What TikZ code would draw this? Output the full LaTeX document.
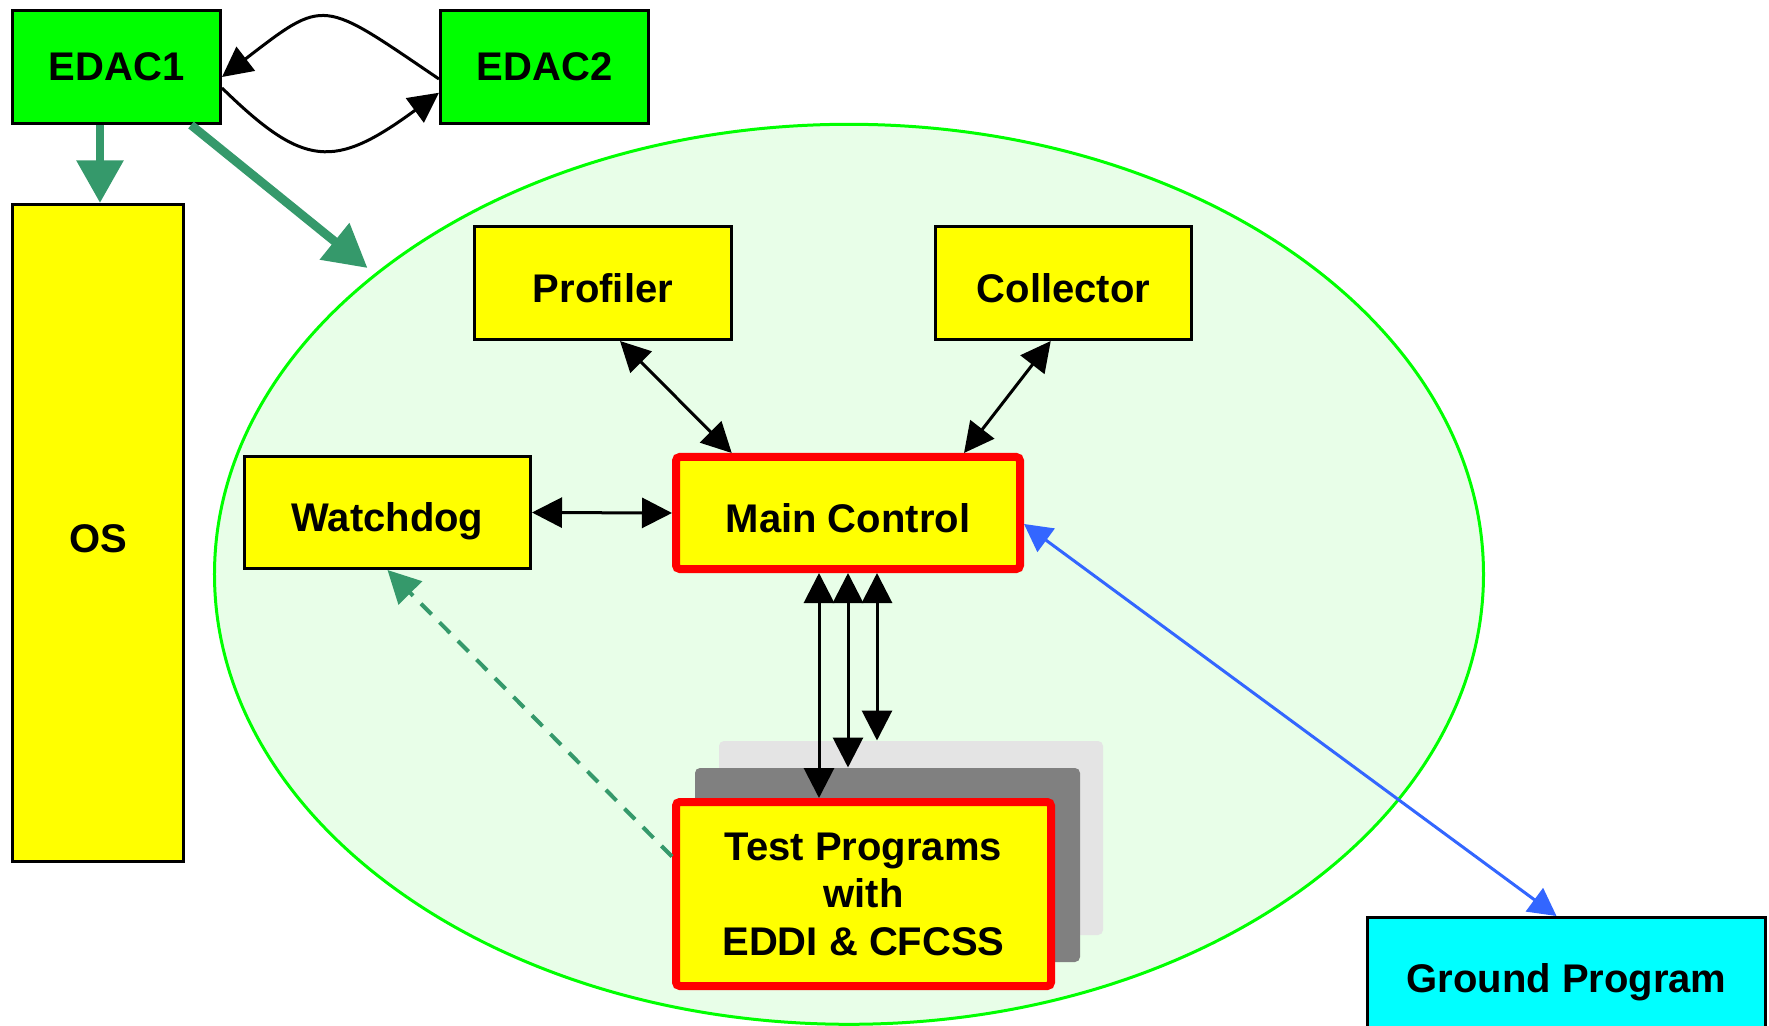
\documentclass[tikz,border=0pt]{standalone}
\usepackage{fontspec}
\setmainfont{Liberation Sans}
\usetikzlibrary{arrows.meta,shapes.geometric}

\definecolor{boxgreen}{RGB}{0,255,0}
\definecolor{boxyellow}{RGB}{255,255,0}
\definecolor{boxcyan}{RGB}{0,255,255}
\definecolor{boxred}{RGB}{255,0,0}
\definecolor{zonefill}{RGB}{232,254,232}
\definecolor{flowgreen}{RGB}{53,153,107}
\definecolor{linkblue}{RGB}{51,102,255}
\definecolor{stackdark}{RGB}{128,128,128}
\definecolor{stacklight}{RGB}{228,228,228}

\tikzset{
  labelfont/.style={font=\fontsize{16pt}{19pt}\selectfont\bfseries},
  box/.style={draw=black, line width=1.2pt, inner sep=0pt, labelfont},
  lowtext/.style={text height=15.2pt, text depth=0pt},
  redbox/.style={draw=boxred, line width=3.2pt, fill=boxyellow, inner sep=0pt,
    rounded corners=1.5pt, labelfont},
  stack/.style={inner sep=0pt, rounded corners=2pt},
  zone/.style={ellipse, draw=boxgreen, line width=1.2pt, fill=zonefill,
    minimum width=507.6pt, minimum height=360pt, inner sep=0pt},
  biarrow/.style={draw=black, line width=1.2pt,
    {Triangle[length=12pt,width=12pt]}-{Triangle[length=12pt,width=12pt]}},
  curvearrow/.style={draw=black, line width=1.2pt,
    -{Triangle[length=12pt,width=12pt]}},
  flow/.style={draw=flowgreen, line width=3.5pt,
    -{Triangle[length=17pt,width=18pt]}},
  dashflow/.style={draw=flowgreen, line width=1.6pt, dash pattern=on 6pt off 4.5pt,
    -{Triangle[length=13pt,width=13pt]}},
  bluelink/.style={draw=linkblue, line width=1.2pt,
    {Triangle[length=11pt,width=11.5pt]}-{Triangle[length=11pt,width=11.5pt]}},
}

\begin{document}
\begin{tikzpicture}[x=0.4pt,y=-0.4pt]
\useasboundingbox (0,0) rectangle (1769,1026);
\clip (0,0) rectangle (1769,1026);

% application zone
\node[zone] (zone) at (849,574.3) {};

% memory protection and operating system
\node[box, fill=boxgreen, minimum width=83.2pt, minimum height=45.2pt] (edac1) at (116.5,67) {EDAC1};
\node[box, fill=boxgreen, minimum width=83.2pt, minimum height=45.2pt] (edac2) at (544.5,67) {EDAC2};
\node[box, lowtext, fill=boxyellow, minimum width=68.4pt, minimum height=262.8pt] (os) at (98,533) {OS};

% components inside the zone
\node[box, lowtext, fill=boxyellow, minimum width=102.8pt, minimum height=45.2pt] (prof) at (603,283) {Profiler};
\node[box, lowtext, fill=boxyellow, minimum width=102.4pt, minimum height=45.2pt] (coll) at (1063.5,283) {Collector};
\node[box, lowtext, fill=boxyellow, minimum width=114.4pt, minimum height=44.8pt] (wd) at (387.5,512.5) {Watchdog};
\node[redbox, lowtext, minimum width=137.6pt, minimum height=44.8pt] (main) at (848,513) {Main Control};

% stacked test programs
\node[stack, fill=stacklight, minimum width=153.6pt, minimum height=77.6pt] (slight) at (911,838) {};
\node[stack, fill=stackdark, minimum width=154pt, minimum height=77.6pt] (sdark) at (887.5,865) {};
\node[redbox, align=center, minimum width=150pt, minimum height=73.6pt] (tests) at (863.5,894)
  {Test Programs\\with\\EDDI \& CFCSS};

% ground side
\node[box, text height=13.8pt, text depth=0pt, fill=boxcyan, minimum width=159.2pt, minimum height=46pt] (ground) at (1566.5,975) {Ground Program};

% EDAC links
\draw[curvearrow] ([yshift=-4.8pt]edac2.west) .. controls +(-118,-80) and +(104,-80) .. ([yshift=-4pt]edac1.east);
\draw[curvearrow] ([yshift=-8.4pt]edac1.east) .. controls +(82,80) and +(-105,77) .. ([yshift=-10.3pt]edac2.west);
\draw[flow] ([xshift=-6.6pt]edac1.south) -- ([xshift=-6.6pt]edac1.south |- os.north);
\coordinate (zoneentry) at (367.5,268);
\draw[flow] ([xshift=29.8pt]edac1.south) -- (zoneentry);

% control links
\draw[biarrow] ([xshift=6.8pt]prof.south) -- ([xshift=-46.5pt]main.north);
\draw[biarrow] ([xshift=-5.1pt]coll.south) -- ([xshift=46.4pt]main.north);
\draw[biarrow] (wd.east) -- (main.west);
\draw[biarrow] ([xshift=-11.6pt]main.south) -- ([xshift=-11.6pt]main.south |- tests.north);
\draw[biarrow] (main.south) -- (main.south |- sdark.north);
\draw[biarrow] ([xshift=11.6pt]main.south) -- ([xshift=11.6pt]main.south |- slight.north);

% watchdog signal and ground link
\draw[dashflow] ([yshift=15pt]tests.west) -- (wd.south);
\draw[bluelink] ([yshift=-4.4pt]main.east) -- ([xshift=-4pt]ground.north);
\end{tikzpicture}
\end{document}
